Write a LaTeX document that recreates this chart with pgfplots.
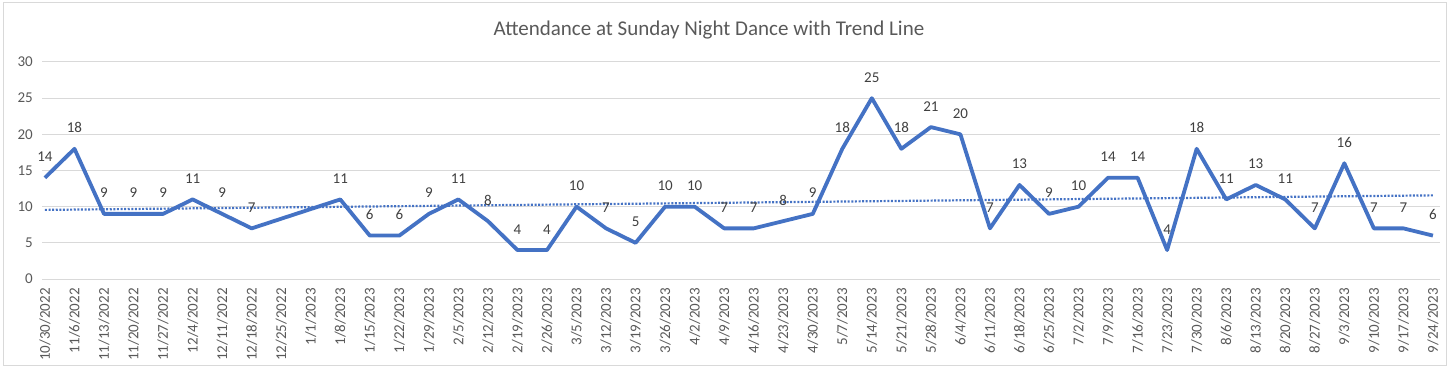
\documentclass[border=0pt]{standalone}
\usepackage{pgfplots}
\pgfplotsset{compat=1.18}
\usepackage{pgfplotstable}
\usepackage{fontspec}
\setmainfont{Carlito}
\definecolor{lineblue}{HTML}{4472C4}
\definecolor{gridgray}{HTML}{D9D9D9}
\definecolor{ticktext}{HTML}{595959}
\definecolor{labeltext}{HTML}{404040}

\pgfplotstableread{
x y
0 14
1 18
2 9
3 9
4 9
5 11
6 9
7 7
10 11
11 6
12 6
13 9
14 11
15 8
16 4
17 4
18 10
19 7
20 5
21 10
22 10
23 7
24 7
25 8
26 9
27 18
28 25
29 18
30 21
31 20
32 7
33 13
34 9
35 10
36 14
37 14
38 4
39 18
40 11
41 13
42 11
43 7
44 16
45 7
46 7
47 6
}\attendance

\pgfplotstableread{
x y
0 9.554
47 11.564
}\trend

\begin{document}
\begin{tikzpicture}
\path (0,0) rectangle (1449bp,375bp);
\draw[gridgray, line width=1bp] (3bp,9bp) rectangle (1446bp,372bp);
\node[font=\fontsize{21bp}{25bp}\selectfont, text=ticktext] at (709bp,345bp) {Attendance at Sunday Night Dance with Trend Line};
\begin{axis}[
  at={(42bp,96bp)}, anchor=south west,
  scale only axis, width=1398bp, height=217bp,
  xmin=-0.1, xmax=47.24, ymin=0, ymax=30,
  ytick={0,5,...,30},
  xtick={0,...,47},
  xticklabels={10/30/2022,11/6/2022,11/13/2022,11/20/2022,11/27/2022,12/4/2022,12/11/2022,12/18/2022,12/25/2022,1/1/2023,1/8/2023,1/15/2023,1/22/2023,1/29/2023,2/5/2023,2/12/2023,2/19/2023,2/26/2023,3/5/2023,3/12/2023,3/19/2023,3/26/2023,4/2/2023,4/9/2023,4/16/2023,4/23/2023,4/30/2023,5/7/2023,5/14/2023,5/21/2023,5/28/2023,6/4/2023,6/11/2023,6/18/2023,6/25/2023,7/2/2023,7/9/2023,7/16/2023,7/23/2023,7/30/2023,8/6/2023,8/13/2023,8/20/2023,8/27/2023,9/3/2023,9/10/2023,9/17/2023,9/24/2023},
  xticklabel style={rotate=90, anchor=east, inner sep=0pt, xshift=-9bp},
  yticklabel style={anchor=east, inner sep=0pt, xshift=-9bp},
  tick label style={font=\fontsize{15bp}{17bp}\selectfont, text=ticktext},
  /pgf/number format/assume math mode=true,
  major tick length=0pt,
  axis line style={draw=none},
  ymajorgrids, grid style={gridgray, line width=1bp},
  clip=false,
]
\addplot[lineblue, line width=3.8bp, line join=round,
  nodes near coords,
  nodes near coords style={font=\fontsize{15bp}{17bp}\selectfont, text=labeltext, anchor=south, inner sep=0pt, yshift=14bp},
  /pgf/number format/assume math mode=true]
  table[x=x, y=y] {\attendance};
\addplot[lineblue, line width=2.2bp, dash pattern=on 2bp off 1.6bp] table[x=x, y=y] {\trend};
\end{axis}
\end{tikzpicture}
\end{document}
